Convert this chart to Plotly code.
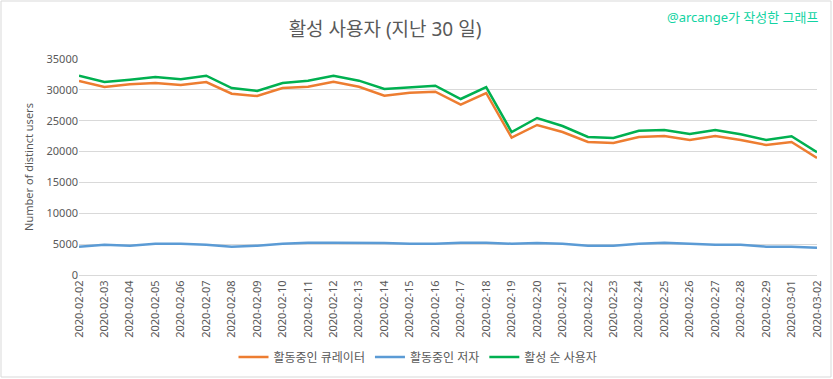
import plotly.graph_objects as go

dates = ["2020-02-02", "2020-02-03", "2020-02-04", "2020-02-05", "2020-02-06",
         "2020-02-07", "2020-02-08", "2020-02-09", "2020-02-10", "2020-02-11",
         "2020-02-12", "2020-02-13", "2020-02-14", "2020-02-15", "2020-02-16",
         "2020-02-17", "2020-02-18", "2020-02-19", "2020-02-20", "2020-02-21",
         "2020-02-22", "2020-02-23", "2020-02-24", "2020-02-25", "2020-02-26",
         "2020-02-27", "2020-02-28", "2020-02-29", "2020-03-01", "2020-03-02"]

active_curators = [31440, 30460, 30900, 31110, 30790, 31270, 29380, 29000, 30300, 30510,
                   31320, 30510, 29050, 29540, 29700, 27600, 29490, 22250, 24310, 23170,
                   21550, 21390, 22360, 22520, 21880, 22520, 21880, 21070, 21550, 18960]

active_authors = [4590, 4910, 4750, 5070, 5070, 4910, 4590, 4750, 5070, 5230,
                  5230, 5230, 5200, 5070, 5070, 5230, 5230, 5070, 5180, 5070,
                  4750, 4750, 5070, 5230, 5070, 4910, 4910, 4590, 4590, 4420]

active_unique = [32290, 31270, 31650, 32080, 31710, 32290, 30300, 29820, 31110, 31490,
                 32290, 31490, 30140, 30460, 30670, 28520, 30460, 23170, 25440, 24140,
                 22360, 22200, 23380, 23500, 22850, 23500, 22800, 21880, 22480, 19880]

series_names = ["활동중인 큐레이터", "활동중인 저자", "활성 순 사용자"]
series_colors = ["#ED7D31", "#5B9BD5", "#00B050"]
y_ticks = [0, 5000, 10000, 15000, 20000, 25000, 30000, 35000]

FONT = "Noto Sans, Noto Sans CJK KR, sans-serif"
GRAY = "#595959"

fig = go.Figure()
for name, vals, col in zip(series_names, [active_curators, active_authors, active_unique], series_colors):
    fig.add_trace(go.Scatter(x=dates, y=vals, mode="lines", name=name,
                             line=dict(color=col, width=2.5)))

W, H = 833, 379
L, R, T, B = 79, 16, 59, 104
pw, ph = W - L - R, H - T - B

def px_x(x):
    return (x - L) / pw

def px_y(y):
    return (H - B - y) / ph

fig.update_layout(
    width=W, height=H,
    margin=dict(l=L, r=R, t=T, b=B, autoexpand=False),
    paper_bgcolor="white", plot_bgcolor="white",
    font=dict(family=FONT, color=GRAY, size=11),
    title=dict(text="활성 사용자 (지난 30 일)", x=385 / W, xref="container", xanchor="center",
               y=1 - 29 / H, yref="container", yanchor="middle", automargin=False,
               font=dict(family=FONT, size=19, color=GRAY)),
    showlegend=True,
    legend=dict(orientation="h", x=px_x(418), xanchor="center", y=px_y(357), yanchor="middle",
                font=dict(family=FONT, size=12, color=GRAY), itemwidth=30,
                bgcolor="rgba(0,0,0,0)"),
    xaxis=dict(type="category", tickangle=-90, showgrid=False, showline=True,
               linecolor="#D9D9D9", linewidth=1, ticks="", automargin=False,
               tickfont=dict(family=FONT, size=11, color=GRAY)),
    yaxis=dict(range=[0, 35000], tickvals=y_ticks, ticktext=[str(v) for v in y_ticks],
               showgrid=True, gridcolor="#D9D9D9", gridwidth=1, zeroline=False,
               showline=False, ticks="", automargin=False,
               tickfont=dict(family=FONT, size=11, color=GRAY),
               title=dict(text="Number of distinct users", standoff=10,
                          font=dict(family=FONT, size=11, color=GRAY))),
    annotations=[dict(text="@arcange가 작성한 그래프", xref="paper", yref="paper",
                      x=px_x(821), xanchor="right", y=px_y(17), yanchor="middle",
                      showarrow=False, font=dict(family=FONT, size=13, color="#12D3A2"))],
    shapes=[dict(type="rect", xref="paper", yref="paper",
                 x0=px_x(1), x1=px_x(831), y0=px_y(377), y1=px_y(1),
                 line=dict(color="#D9D9D9", width=1), layer="below")],
)

fig.write_html("out.html", config={"displayModeBar": False},
               post_script="document.body.style.margin='0';document.body.style.overflow='hidden';")
